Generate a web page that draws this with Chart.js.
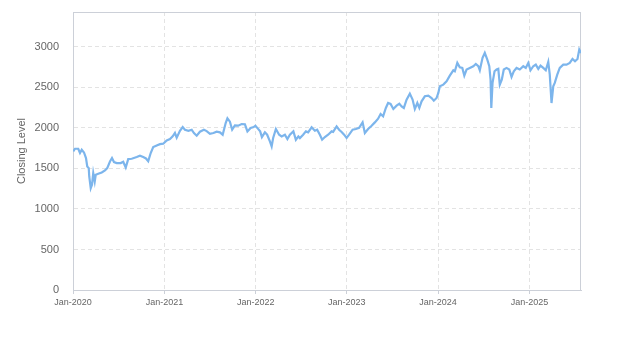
<!DOCTYPE html>
<html>
<head>
<meta charset="utf-8">
<title>Closing Level</title>
<script src="https://cdn.jsdelivr.net/npm/chart.js@4.4.0/dist/chart.umd.min.js"></script>
<style>
    body { margin: 0; background: #fff; }
    #wrap { width: 623px; height: 350px; }
</style>
</head>
<body>
<div id="wrap"><canvas id="chart" width="623" height="350"></canvas></div>
<script>
// x = days since 2020-01-01
const tradeDays = [
    1, 8, 21, 28, 35, 44, 52, 57, 63, 65, 71, 76, 81, 87, 91, 101, 115, 128, 137, 148,
    156, 164, 175, 191, 201, 211, 221, 235, 255, 268, 281, 292, 301, 311, 321, 335, 348, 361, 375, 388,
    399, 408, 415, 428, 439, 448, 462, 475, 484, 495, 508, 524, 535, 548, 562, 575, 588, 599, 611, 618,
    628, 637, 648, 661, 675, 688, 698, 711, 723, 730, 739, 749, 756, 768, 777, 788, 795, 801, 812, 825,
    835, 848, 858, 868, 882, 892, 902, 908, 921, 932, 941, 955, 968, 977, 988, 997, 1008, 1021, 1035, 1041,
    1055, 1065, 1075, 1085, 1095, 1105, 1119, 1132, 1145, 1159, 1168, 1181, 1195, 1208, 1221, 1231, 1241, 1252, 1261, 1271,
    1282, 1295, 1306, 1315, 1324, 1335, 1348, 1359, 1368, 1378, 1386, 1395, 1408, 1422, 1435, 1444, 1455, 1462, 1468, 1482,
    1495, 1508, 1522, 1528, 1538, 1548, 1558, 1566, 1575, 1588, 1602, 1612, 1622, 1628, 1639, 1648, 1658, 1666, 1671, 1674,
    1679, 1687, 1695, 1702, 1708, 1716, 1724, 1735, 1746, 1755, 1764, 1775, 1788, 1802, 1812, 1822, 1831, 1842, 1852, 1862,
    1871, 1882, 1892, 1902, 1908, 1915, 1922, 1928, 1938, 1948, 1962, 1975, 1988, 1999, 2009, 2019, 2026, 2033
];
const closingLevels = [
    1710, 1743, 1743, 1690, 1730, 1697, 1628, 1525, 1504, 1401, 1257, 1298, 1442, 1339, 1421, 1434, 1450, 1475, 1504, 1586,
    1628, 1578, 1566, 1566, 1582, 1512, 1615, 1619, 1640, 1656, 1640, 1623, 1590, 1690, 1763, 1784, 1800, 1805, 1846, 1862,
    1895, 1937, 1879, 1965, 2011, 1978, 1965, 1978, 1937, 1904, 1953, 1978, 1961, 1928, 1937, 1953, 1945, 1916, 2060, 2118,
    2077, 1978, 2031, 2027, 2048, 2044, 1957, 2000, 2011, 2027, 1994, 1957, 1887, 1945, 1916, 1834, 1772, 1875, 1986, 1916,
    1895, 1916, 1862, 1916, 1957, 1854, 1895, 1875, 1916, 1957, 1945, 2007, 1965, 1978, 1916, 1854, 1887, 1916, 1957, 1950,
    2019, 1978, 1949, 1916, 1875, 1916, 1978, 1986, 2000, 2068, 1937, 1986, 2027, 2068, 2114, 2171, 2143, 2246, 2307, 2295,
    2233, 2274, 2299, 2266, 2246, 2349, 2423, 2349, 2233, 2307, 2246, 2328, 2390, 2398, 2369, 2336, 2369, 2431, 2513, 2534,
    2575, 2645, 2711, 2699, 2802, 2748, 2740, 2645, 2720, 2740, 2761, 2789, 2761, 2711, 2864, 2925, 2843, 2761, 2596, 2246,
    2555, 2699, 2720, 2728, 2534, 2596, 2720, 2740, 2720, 2629, 2699, 2740, 2720, 2761, 2740, 2802, 2711, 2761, 2781, 2728,
    2769, 2740, 2711, 2814, 2658, 2307, 2513, 2555, 2658, 2740, 2781, 2781, 2802, 2851, 2822, 2851, 2967, 2925
];

const yearTickDays = [0, 366, 731, 1096, 1461, 1827];
const yearTickLabels = ["Jan-2020", "Jan-2021", "Jan-2022", "Jan-2023", "Jan-2024", "Jan-2025"];
const levelTicks = [0, 500, 1000, 1500, 2000, 2500, 3000];
const lastDay = 2033;
const levelMax = 3430;

const axisColor = "#ccd0d8";
const gridColor = "#e3e3e3";
const textColor = "#666666";

// ramka dookoła obszaru wykresu
const frameBox = {
    id: "frameBox",
    beforeDatasetsDraw(chart) {
        const { ctx, chartArea } = chart;
        ctx.save();
        ctx.strokeStyle = axisColor;
        ctx.lineWidth = 1;
        ctx.strokeRect(
            Math.round(chartArea.left) + 0.5,
            Math.round(chartArea.top) + 0.5,
            Math.round(chartArea.right - chartArea.left) - 1,
            Math.round(chartArea.bottom - chartArea.top)
        );
        ctx.restore();
    }
};

const points = tradeDays.map((day, i) => ({ x: day, y: closingLevels[i] }));

new Chart(document.getElementById("chart"), {
    type: "line",
    data: {
        datasets: [{
            label: "Closing Level",
            data: points,
            borderColor: "#7cb5ec",
            borderWidth: 2.2,
            pointRadius: 0,
            tension: 0,
            fill: false
        }]
    },
    options: {
        responsive: false,
        animation: false,
        layout: { padding: { left: 0, top: 12, right: 42, bottom: 0 } },
        plugins: {
            legend: { display: false },
            tooltip: { enabled: false }
        },
        scales: {
            x: {
                type: "linear",
                min: 0,
                max: lastDay,
                afterBuildTicks: (scale) => {
                    scale.ticks = yearTickDays.map(v => ({ value: v }));
                },
                afterFit: (scale) => {
                    scale.height = 60;
                    scale.paddingLeft = 0;
                    scale.paddingRight = 0;
                },
                grid: {
                    color: gridColor,
                    tickColor: axisColor,
                    tickLength: 4,
                    drawTicks: true
                },
                border: { color: axisColor, dash: [4, 3] },
                ticks: {
                    color: textColor,
                    font: { family: "'Liberation Sans', Arial, sans-serif", size: 9 },
                    padding: 3,
                    maxRotation: 0,
                    callback: (value) => {
                        const idx = yearTickDays.indexOf(value);
                        return idx >= 0 ? yearTickLabels[idx] : "";
                    }
                }
            },
            y: {
                min: 0,
                max: levelMax,
                afterBuildTicks: (scale) => {
                    scale.ticks = levelTicks.map(v => ({ value: v }));
                },
                afterFit: (scale) => {
                    scale.width = 73;
                    scale.paddingTop = 0;
                    scale.paddingBottom = 0;
                },
                grid: {
                    color: gridColor,
                    drawTicks: false
                },
                border: { color: axisColor, dash: [4, 3] },
                ticks: {
                    color: textColor,
                    font: { family: "'Liberation Sans', Arial, sans-serif", size: 11 },
                    padding: 14,
                    callback: (value) => String(value)
                },
                title: {
                    display: true,
                    text: "Closing Level",
                    color: textColor,
                    font: { family: "'Liberation Sans', Arial, sans-serif", size: 11 },
                    padding: { top: 15, bottom: 0 }
                }
            }
        }
    },
    plugins: [frameBox]
});
</script>
</body>
</html>
